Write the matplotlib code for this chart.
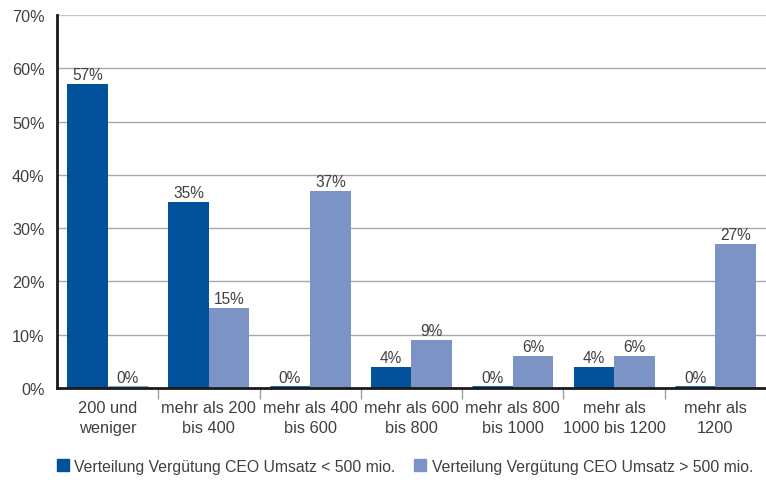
import matplotlib
matplotlib.use("Agg")
import matplotlib.pyplot as plt
import numpy as np
from matplotlib.patches import Patch

categories = ["200 und\nweniger", "mehr als 200\nbis 400", "mehr als 400\nbis 600",
              "mehr als 600\nbis 800", "mehr als 800\nbis 1000", "mehr als\n1000 bis 1200",
              "mehr als\n1200"]
small_rev = [57, 35, 0, 4, 0, 4, 0]
large_rev = [0, 15, 37, 9, 6, 6, 27]
series_names = ["Verteilung Vergütung CEO Umsatz < 500 mio.",
                "Verteilung Vergütung CEO Umsatz > 500 mio."]
y_ticks = [0, 10, 20, 30, 40, 50, 60, 70]

plt.rcParams['font.family'] = ['Liberation Sans', 'DejaVu Sans']
text_col = "#404040"
dark = "#02519b"
light = "#7c93c5"

fig = plt.figure(figsize=(7.66, 4.81), dpi=100)
ax = fig.add_axes([0.0744, 0.1913, 0.9256, 0.7754])

x = np.arange(len(categories))
w = 0.4
for vals, off, col in ((small_rev, -w / 2, dark), (large_rev, w / 2, light)):
    bars = ax.bar(x + off, vals, width=w, color=col, edgecolor=col,
                  linewidth=0, zorder=3)
    for b, v in zip(bars, vals):
        if v == 0:
            ax.plot([b.get_x(), b.get_x() + b.get_width()], [0.15, 0.15],
                    color=col, lw=2, zorder=3, solid_capstyle='butt')
        ax.text(b.get_x() + b.get_width() / 2, v + 0.35 if v else 0.6, f"{v}%",
                ha="center", va="bottom", fontsize=11.2, color=text_col, zorder=4)

ax.set_xlim(-0.5, len(categories) - 0.5)
ax.set_ylim(0, 70)
ax.set_yticks(y_ticks)
ax.set_yticklabels([f"{t}%" for t in y_ticks], fontsize=11.7, color=text_col)
ax.tick_params(axis="y", length=0, pad=9)
for t in y_ticks[1:]:
    ax.axhline(t, color="#c8c8c8" if t == 70 else "#a8a8a8", lw=1, zorder=1)

ax.set_xticks(x)
ax.set_xticklabels(categories, fontsize=11.8, color=text_col, linespacing=1.35)
ax.tick_params(axis="x", length=0, pad=9)
ax.set_xticks(np.arange(0.5, len(categories) - 0.5), minor=True)
ax.tick_params(axis="x", which="minor", length=8, color="#a0a0a0", width=1)

for s in ("top", "right"):
    ax.spines[s].set_visible(False)
ax.spines["left"].set_color("#1a1a1a")
ax.spines["left"].set_linewidth(2)
ax.spines["bottom"].set_color("#1a1a1a")
ax.spines["bottom"].set_linewidth(2)
ax.spines["bottom"].set_zorder(5)

handles = [Patch(color=dark), Patch(color=light)]
fig.legend(handles, series_names, loc="center left", bbox_to_anchor=(0.0744, 0.029),
           ncol=2, frameon=False, fontsize=11.3, handlelength=0.75, handleheight=0.75,
           handletextpad=0.35, columnspacing=1.2, labelcolor=text_col,
           borderaxespad=0, borderpad=0)

fig.savefig("out.png", dpi=100)
